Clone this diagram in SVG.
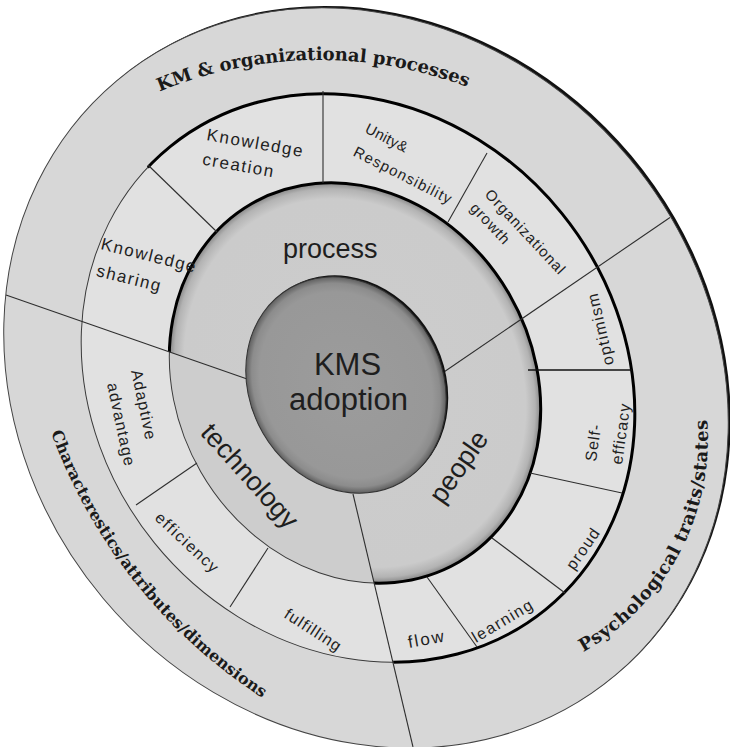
<svg xmlns="http://www.w3.org/2000/svg" width="730" height="747" viewBox="0 0 730 747">
<defs>
<style>
.lbl{font-family:"Liberation Sans",Arial,sans-serif;fill:#1e1e1e;}
.seg{font-size:16px;letter-spacing:1.3px;}
.mid{font-size:27px;}
.core{font-size:31px;text-anchor:middle;}
.band{font-family:"DejaVu Serif","Liberation Serif",serif;font-weight:bold;font-size:18px;fill:#1a1a1a;}
.div{stroke:#2e2e2e;stroke-width:1.1;fill:none;}
</style>
<!-- region of the process and people sectors (everything except the technology wedge) -->
<clipPath id="cpThick" clipPathUnits="userSpaceOnUse"><polygon points="333,409 -100,258 -100,-100 830,-100 830,850 437,850"/></clipPath>
<clipPath id="cpSegThick" clipPathUnits="userSpaceOnUse"><polygon points="330,390 60,60 60,-100 830,-100 830,850 437,850"/></clipPath>
<radialGradient id="gMid" cx="0.5" cy="0.5" r="0.5">
<stop offset="0" stop-color="#cdcdcd"/>
<stop offset="0.92" stop-color="#cbcbcb"/>
<stop offset="0.97" stop-color="#b3b3b3"/>
<stop offset="1" stop-color="#868686"/>
</radialGradient>
<radialGradient id="gCore" cx="0.5" cy="0.5" r="0.5">
<stop offset="0" stop-color="#9c9c9c"/>
<stop offset="0.86" stop-color="#989898"/>
<stop offset="0.94" stop-color="#8c8c8c"/>
<stop offset="1" stop-color="#5e5e5e"/>
</radialGradient>
<!-- baselines for the curved band titles -->
<path id="pTop" d="M100,122 A419,419 0 0 1 560,136"/>
<path id="pLeft" d="M35,380 A533,533 0 0 0 330,735"/>
<path id="pRight" d="M520,677 A245,245 0 0 0 690,347"/>
</defs>

<rect width="730" height="747" fill="#ffffff"/>

<!-- outer band -->
<g id="band-outer">
<ellipse rx="388" ry="343" transform="translate(368.5 376) rotate(50)" fill="#111"/>
<ellipse rx="388" ry="343" transform="translate(366 378) rotate(50)" fill="#d7d7d7" stroke="#444" stroke-width="1"/>
</g>

<!-- ring of attribute segments -->
<g id="ring-segments">
<ellipse rx="298" ry="262" transform="translate(358 378) rotate(51)" fill="#e1e1e1" stroke="#3a3a3a" stroke-width="1"/>
<g clip-path="url(#cpSegThick)">
<ellipse rx="298" ry="262" transform="translate(358 378) rotate(51)" fill="none" stroke="#000" stroke-width="3"/>
</g>
</g>

<!-- ring of the three dimensions -->
<g id="ring-dimensions">
<ellipse rx="207" ry="178" transform="translate(355 383) rotate(60)" fill="#cdcdcd" stroke="#3a3a3a" stroke-width="1"/>
<g clip-path="url(#cpThick)">
<ellipse rx="207" ry="178" transform="translate(355 383) rotate(60)" fill="url(#gMid)" stroke="#000" stroke-width="3"/>
</g>
</g>

<!-- dividers -->
<g id="dividers">
<path class="div" d="M6,295 L250,380"/>
<path class="div" d="M441,374 L670,217.5"/>
<path class="div" d="M353,494 L413,747"/>
<path class="div" d="M148,165 L217,232"/>
<path class="div" d="M323,91 L323,183"/>
<path class="div" d="M487,153 L448,222"/>
<path d="M528,370 L632,370" stroke="#111" stroke-width="1.6"/>
<path class="div" d="M530,473 L622,493"/>
<path class="div" d="M492,538 L565,593"/>
<path class="div" d="M427,577 L477,647"/>
<path class="div" d="M197,463 L136,505"/>
<path class="div" d="M268,548 L230,607"/>
</g>

<!-- centre -->
<g id="node-core">
<ellipse rx="112" ry="96" transform="translate(348 383.5) rotate(60)" fill="#111"/>
<ellipse rx="112" ry="96" transform="translate(346 385) rotate(60)" fill="url(#gCore)" stroke="#333" stroke-width="1"/>
<text class="lbl core" x="347.5" y="375">KMS</text>
<text class="lbl core" x="348.5" y="410">adoption</text>
</g>

<!-- dimension labels -->
<g id="node-process"><text class="lbl mid" x="283" y="258">process</text></g>
<g id="node-technology"><text class="lbl mid" text-anchor="middle" transform="translate(243 482) rotate(48)">technology</text></g>
<g id="node-people"><text class="lbl mid" text-anchor="middle" transform="translate(466 472) rotate(-55)">people</text></g>

<!-- segment labels -->
<g id="seg-knowledge-sharing"><text class="lbl seg" style="font-size:17px;letter-spacing:1.6px" transform="translate(100 249) rotate(14)"><tspan x="0" y="0">Knowledge</tspan><tspan x="2" y="27">sharing</tspan></text></g>
<g id="seg-knowledge-creation"><text class="lbl seg" style="font-size:17px;letter-spacing:1.6px" transform="translate(206 140) rotate(10)"><tspan x="0" y="0">Knowledge</tspan><tspan x="0" y="25">creation</tspan></text></g>
<g id="seg-unity"><text class="lbl seg" style="font-size:15px" transform="translate(364 132) rotate(27)"><tspan x="0" y="0" style="letter-spacing:0.3px">Unity&amp;</tspan><tspan x="0" y="26" style="letter-spacing:1.2px">Responsibility</tspan></text></g>
<g id="seg-org-growth"><text class="lbl seg" style="font-size:15px;letter-spacing:1px" transform="translate(484 195) rotate(47)"><tspan x="0" y="0">Organizational</tspan><tspan x="0" y="20">growth</tspan></text></g>
<g id="seg-optimism"><text class="lbl seg" transform="translate(614 364) rotate(-103)">optimism</text></g>
<g id="seg-self-efficacy">
<text class="lbl seg" style="letter-spacing:1px" transform="translate(596 462) rotate(-82)">Self-</text>
<text class="lbl seg" style="letter-spacing:1px" transform="translate(622 465) rotate(-82)">efficacy</text>
</g>
<g id="seg-proud"><text class="lbl seg" transform="translate(574 571) rotate(-55)">proud</text></g>
<g id="seg-learning"><text class="lbl seg" style="letter-spacing:1.5px" transform="translate(476 643) rotate(-31)">learning</text></g>
<g id="seg-flow"><text class="lbl seg" style="font-size:17px;letter-spacing:2px" transform="translate(409 648) rotate(-10)">flow</text></g>
<g id="seg-fulfilling"><text class="lbl seg" style="letter-spacing:1.2px" transform="translate(283 617) rotate(33)">fulfilling</text></g>
<g id="seg-efficiency"><text class="lbl seg" style="letter-spacing:1.5px" transform="translate(154 519) rotate(43)">efficiency</text></g>
<g id="seg-adaptive">
<text class="lbl seg" style="letter-spacing:1.2px" transform="translate(131 371) rotate(78)">Adaptive</text>
<text class="lbl seg" style="letter-spacing:1.2px" transform="translate(107 384) rotate(78)">advantage</text>
</g>

<!-- band titles -->
<g id="title-km"><text class="band"><textPath href="#pTop" startOffset="67" textLength="315" lengthAdjust="spacing">KM &amp; organizational processes</textPath></text></g>
<g id="title-characteristics"><text class="band" style="font-size:16px"><textPath href="#pLeft" startOffset="55" textLength="345" lengthAdjust="spacing">Characterestics/attributes/dimensions</textPath></text></g>
<g id="title-psychological"><text class="band"><textPath href="#pRight" startOffset="68" textLength="278" lengthAdjust="spacing">Psychological traits/states</textPath></text></g>
</svg>
